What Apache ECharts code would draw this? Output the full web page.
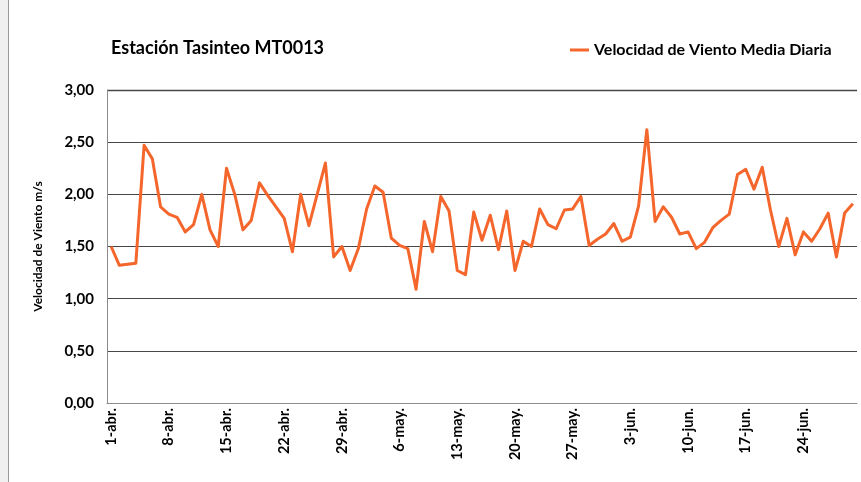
<!DOCTYPE html>
<html>
<head>
<meta charset="utf-8">
<script src="https://cdn.jsdelivr.net/npm/echarts@6/dist/echarts.min.js"></script>
<style>
  html, body { margin: 0; padding: 0; background: #ffffff; }
  #chart { width: 861px; height: 482px; }
</style>
</head>
<body>
<div id="chart"></div>
<script>
// Daily series: 1 April to 30 June
const startDay = { month: 3, day: 1 };            // April 1 (0-based month)
const monthAbbr = ['ene.', 'feb.', 'mar.', 'abr.', 'may.', 'jun.', 'jul.'];
const dayCount = 91;

// Mean daily wind speed (m/s)
const windSpeed = [
  1.50, 1.32, 1.33, 1.34, 2.47, 2.34, 1.88, 1.81, 1.78, 1.64,
  1.71, 2.00, 1.66, 1.50, 2.25, 2.00, 1.66, 1.75, 2.11, 1.99,
  1.88, 1.77, 1.45, 2.00, 1.70, 2.00, 2.30, 1.40, 1.50, 1.27,
  1.48, 1.86, 2.08, 2.02, 1.58, 1.51, 1.48, 1.09, 1.74, 1.45,
  1.98, 1.84, 1.27, 1.23, 1.83, 1.56, 1.80, 1.47, 1.84, 1.27,
  1.55, 1.50, 1.86, 1.71, 1.67, 1.85, 1.86, 1.98, 1.51, 1.57,
  1.62, 1.72, 1.55, 1.59, 1.89, 2.62, 1.74, 1.88, 1.78, 1.62,
  1.64, 1.48, 1.54, 1.68, 1.75, 1.81, 2.19, 2.24, 2.05, 2.26,
  1.85, 1.50, 1.77, 1.42, 1.64, 1.55, 1.67, 1.82, 1.40, 1.82,
  1.91
];

const yTicks = { min: 0, max: 3, step: 0.5 };
const labelEvery = 7;

// Build "d-mmm." category labels
const categories = [];
{
  const d = new Date(2021, startDay.month, startDay.day);
  for (let i = 0; i < dayCount; i++) {
    categories.push(d.getDate() + '-' + monthAbbr[d.getMonth()]);
    d.setDate(d.getDate() + 1);
  }
}

const FONT = 'Lato';
const chart = echarts.init(document.getElementById('chart'), null, { renderer: 'canvas' });

chart.setOption({
  animation: false,
  backgroundColor: '#ffffff',
  textStyle: { fontFamily: FONT },
  title: {
    text: 'Estación Tasinteo MT0013',
    left: 106,
    top: 34,
    textStyle: { fontFamily: FONT, fontWeight: 'bold', fontSize: 18, color: '#000' }
  },
  legend: {
    left: 565,
    top: 37,
    itemWidth: 19,
    itemHeight: 3,
    itemGap: 4,
    textStyle: { fontFamily: FONT, fontWeight: 'bold', fontSize: 16, color: '#000' },
    data: [{ name: 'Velocidad de Viento Media Diaria', icon: 'rect' }]
  },
  grid: { left: 107, right: 4, top: 90, bottom: 79, containLabel: false },
  xAxis: {
    type: 'category',
    data: categories,
    boundaryGap: true,
    axisLine: { show: true, lineStyle: { color: '#8c8c8c', width: 1 } },
    axisTick: { show: false },
    axisLabel: {
      interval: labelEvery - 1,
      rotate: 90,
      margin: 5,
      fontFamily: FONT,
      fontWeight: 'bold',
      fontSize: 14.5,
      color: '#000'
    },
    splitLine: { show: false }
  },
  yAxis: {
    type: 'value',
    min: yTicks.min,
    max: yTicks.max,
    interval: yTicks.step,
    name: 'Velocidad de Viento m/s',
    nameLocation: 'middle',
    nameGap: 63,
    nameRotate: 90,
    nameTextStyle: { fontFamily: FONT, fontWeight: 'bold', fontSize: 12, color: '#000' },
    axisLine: { show: true, lineStyle: { color: '#8c8c8c', width: 1 } },
    axisTick: { show: false },
    axisLabel: {
      margin: 13,
      fontFamily: FONT,
      fontWeight: 'bold',
      fontSize: 15,
      color: '#000',
      formatter: v => v.toFixed(2).replace('.', ',')
    },
    splitLine: { lineStyle: { color: '#474747', width: 1 } }
  },
  series: [{
    name: 'Velocidad de Viento Media Diaria',
    type: 'line',
    data: windSpeed,
    symbol: 'none',
    lineStyle: { color: '#F4662B', width: 3, join: 'round' },
    itemStyle: { color: '#F4662B' }
  }],
  graphic: [
    // chart frame on the left
    { type: 'line', shape: { x1: 8.5, y1: 0, x2: 8.5, y2: 482 }, style: { stroke: '#9a9a9a', lineWidth: 1 } },
    { type: 'rect', shape: { x: 0, y: 0, width: 8, height: 482 }, style: { fill: '#f0f0f0' } },
    // plot area top border
    { type: 'line', shape: { x1: 107, y1: 90.5, x2: 857, y2: 90.5 }, style: { stroke: '#a6a6a6', lineWidth: 2 } }
  ]
});
</script>
</body>
</html>
